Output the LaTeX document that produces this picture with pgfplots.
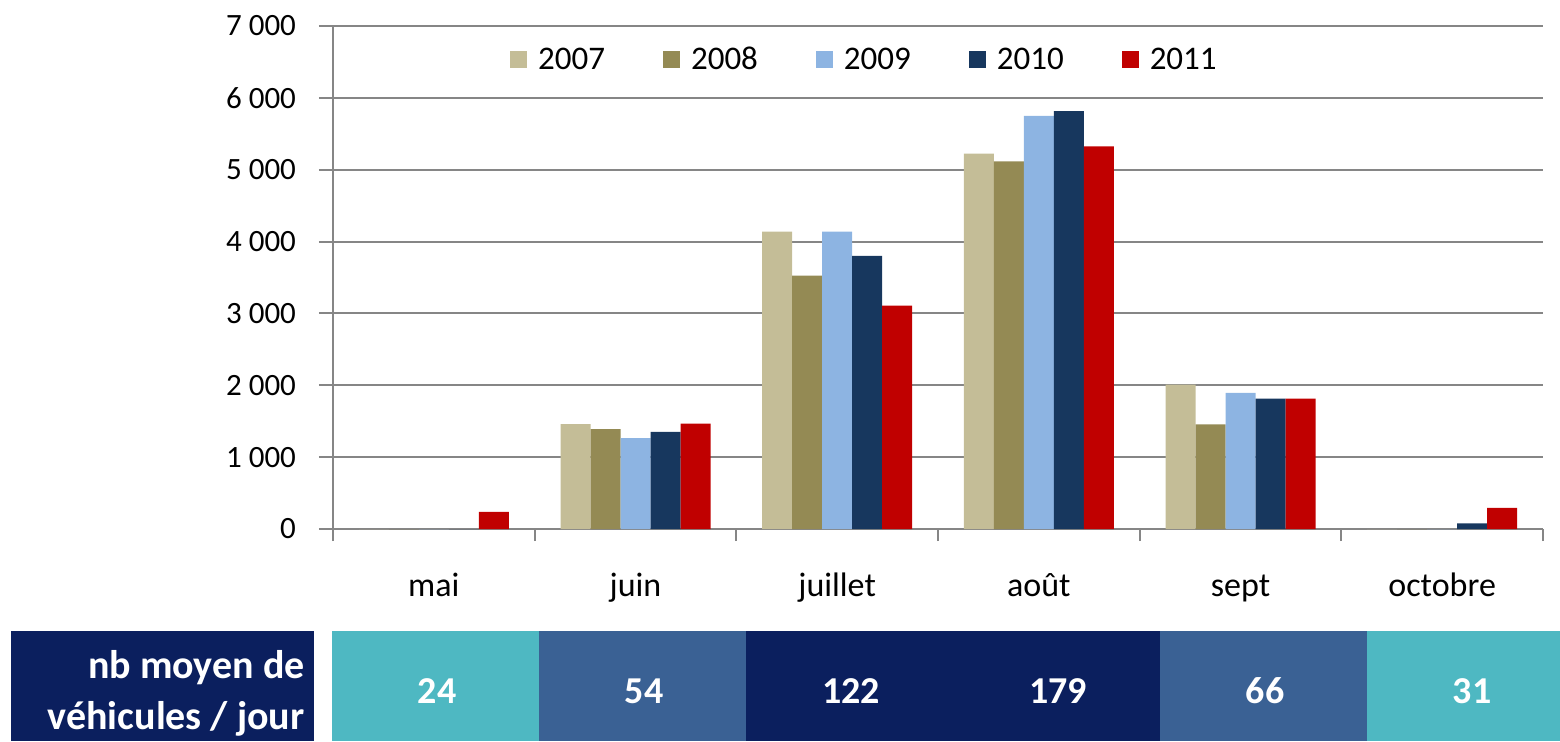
\documentclass[border=0pt]{standalone}
\usepackage{pgfplots}
\pgfplotsset{compat=1.18}
\usepackage{pgfplotstable}
\usepackage{fontspec}
\setmainfont{Carlito}
\definecolor{c2007}{HTML}{C4BD97}
\definecolor{c2008}{HTML}{948A54}
\definecolor{c2009}{HTML}{8DB4E2}
\definecolor{c2010}{HTML}{17375E}
\definecolor{c2011}{HTML}{C00000}
\definecolor{gridc}{HTML}{868686}
\definecolor{tteal}{HTML}{4EB8C2}
\definecolor{tmid}{HTML}{3A6194}
\definecolor{tnavy}{HTML}{0B1F5E}
\pgfplotstableread{
cat y2007 y2008 y2009 y2010 y2011
0 0 0 0 0 240
1 1460 1390 1265 1350 1465
2 4140 3525 4140 3800 3110
3 5225 5115 5750 5815 5325
4 2010 1455 1895 1815 1815
5 0 0 0 80 295
}\datatable
\begin{document}
\begin{tikzpicture}
\useasboundingbox (0,0) rectangle (780pt,370.5pt);
\begin{axis}[
  at={(166.5pt,106pt)}, anchor=south west,
  scale only axis, width=605pt, height=251.5pt,
  xmin=-0.5, xmax=5.5, ymin=0, ymax=7000,
  ybar=0pt, bar width=15pt,
  axis x line*=bottom, axis y line*=left,
  axis line style={gridc, line width=1pt},
  ymajorgrids, grid style={gridc, line width=1pt},
  ytick={0,1000,...,7000},
  /pgf/number format/1000 sep={\ },
  /pgf/number format/assume math mode=true,
  yticklabel style={font=\fontsize{15.5}{18}\selectfont, xshift=-8pt},
  xtick={0,...,5},
  xticklabels={mai,juin,juillet,août,sept,octobre},
  xticklabel style={font=\fontsize{17}{20}\selectfont, yshift=-11pt, text height=12pt, text depth=4pt},
  major x tick style={draw=none},
  minor xtick={-0.5,0.5,1.5,2.5,3.5,4.5,5.5},
  tick align=outside,
  major tick length=7pt, minor tick length=6pt,
  tick style={gridc, line width=1pt},
  legend columns=5,
  legend style={draw=none, fill=none, at={(0.44,0.932)}, anchor=center,
    font=\fontsize{16.5}{19}\selectfont,
    /tikz/every odd column/.append style={column sep=3.5pt},
    /tikz/every even column/.append style={column sep=27pt}},
  legend image code/.code={\fill[#1] (0pt,-4pt) rectangle (8.5pt,4.5pt);},
]
\addplot[fill=c2007, draw=none] table[x=cat, y=y2007] {\datatable};
\addplot[fill=c2008, draw=none] table[x=cat, y=y2008] {\datatable};
\addplot[fill=c2009, draw=none] table[x=cat, y=y2009] {\datatable};
\addplot[fill=c2010, draw=none] table[x=cat, y=y2010] {\datatable};
\addplot[fill=c2011, draw=none] table[x=cat, y=y2011] {\datatable};
\legend{2007,2008,2009,2010,2011}
\end{axis}
% table below
\fill[tnavy] (5.5pt,0) rectangle (157pt,55pt);
\fill[tteal] (166pt,0) rectangle (269.5pt,55pt);
\fill[tmid] (269.5pt,0) rectangle (373pt,55pt);
\fill[tnavy] (373pt,0) rectangle (580pt,55pt);
\fill[tmid] (580pt,0) rectangle (683.5pt,55pt);
\fill[tteal] (683.5pt,0) rectangle (780pt,55pt);
\begin{scope}[every node/.style={text=white, font=\bfseries\fontsize{19}{22}\selectfont}]
\node[anchor=base east, inner sep=0pt, font=\bfseries\fontsize{20}{22}\selectfont] at (152.5pt,31.5pt) {nb moyen de};
\node[anchor=base east, inner sep=0pt, font=\bfseries\fontsize{20}{22}\selectfont] at (152.5pt,6pt) {véhicules / jour};
\node at (218.5pt,25pt) {24};
\node at (322pt,25pt) {54};
\node at (425.5pt,25pt) {122};
\node at (529pt,25pt) {179};
\node at (632.5pt,25pt) {66};
\node at (736pt,25pt) {31};
\end{scope}
\end{tikzpicture}
\end{document}
